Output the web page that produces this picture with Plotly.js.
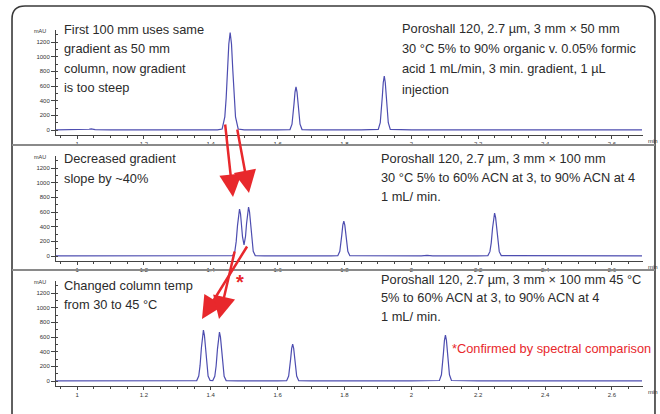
<!DOCTYPE html>
<html><head><meta charset="utf-8">
<script src="https://cdn.plot.ly/plotly-3.0.1.min.js"></script>
<style>html,body{margin:0;padding:0;background:#fff}#chart{width:660px;height:414px}</style>
</head><body><div id="chart"></div>
<script>
// Retention time (min) and absorbance (mAU), panel by panel
const time1 = [0.937,1.000,1.030,1.036,1.042,1.048,1.054,1.100,1.300,1.420,
  1.434,1.442,1.446,1.450,1.454,1.458,1.462,1.466,1.470,1.474,1.482,1.500,1.600,
  1.637,1.643,1.646,1.649,1.652,1.655,1.658,1.661,1.664,1.667,1.673,1.700,1.850,
  1.901,1.907,1.910,1.913,1.916,1.919,1.922,1.925,1.928,1.931,1.937,2.000,2.300,2.690];
const mau1 = [2,2,4,10,15,10,4,2,2,2,
  14,180,432,807,1173,1330,1173,807,432,180,14,3,2,
  6,79,191,356,518,587,518,356,191,79,6,2,2,
  8,99,239,446,648,735,648,446,239,99,8,2,2,2];

const time2 = [0.937,1.300,1.440,
  1.466,1.472,1.476,1.480,1.483,1.486,1.489,1.492,1.495,1.4995,1.504,1.507,1.510,1.513,1.516,1.519,1.523,1.527,1.533,
  1.560,1.760,
  1.780,1.786,1.789,1.792,1.795,1.798,1.801,1.804,1.807,1.810,1.816,
  1.900,2.030,2.047,2.064,2.200,
  2.229,2.235,2.239,2.243,2.246,2.249,2.252,2.255,2.259,2.263,2.269,
  2.400,2.690];
const mau2 = [2,2,2,
  6,63,196,418,575,640,576,422,260,151,269,439,601,667,600,436,204,65,6,
  2,2,
  5,64,155,289,420,476,420,289,155,64,5,
  2,2,8,2,2,
  5,59,179,382,526,585,526,382,179,59,5,
  2,2];

const time3 = [0.937,1.200,1.340,
  1.358,1.364,1.368,1.372,1.375,1.378,1.381,1.384,1.388,1.392,1.398,
  1.402,
  1.406,1.412,1.416,1.420,1.423,1.426,1.429,1.432,1.436,1.440,1.446,
  1.480,1.600,
  1.627,1.633,1.636,1.639,1.642,1.645,1.648,1.651,1.654,1.657,1.663,
  1.700,1.830,1.846,1.862,2.000,
  2.084,2.090,2.093,2.096,2.099,2.102,2.105,2.108,2.111,2.114,2.120,
  2.200,2.690];
const mau3 = [2,2,2,
  6,68,212,453,624,694,624,453,212,68,7,
  2,
  6,65,204,435,599,666,599,435,204,65,6,
  2,2,
  5,68,165,306,444,503,444,306,165,68,5,
  2,2,6,2,2,
  7,85,203,380,553,626,553,380,203,85,7,
  2,2];

const notes1Left = ['First 100 mm uses same','gradient as 50 mm','column, now gradient','is too steep'];
const notes1Right = ['Poroshall 120, 2.7 µm, 3 mm × 50 mm','30 °C 5% to 90% organic v. 0.05% formic','acid 1 mL/min, 3 min. gradient, 1 µL','injection'];
const notes2Left = ['Decreased gradient','slope by ~40%'];
const notes2Right = ['Poroshall 120, 2.7 µm, 3 mm × 100 mm','30 °C 5% to 60% ACN at 3, to 90% ACN at 4','1 mL/ min.'];
const notes3Left = ['Changed column temp','from 30 to 45 °C'];
const notes3Right = ['Poroshall 120, 2.7 µm, 3 mm × 100 mm 45 °C','5% to 60% ACN at 3, to 90% ACN at 4','1 mL/ min.'];
const footNote = '*Confirmed by spectral comparison';

const W = 660, H = 414;
const px = x => x / W;
const py = y => 1 - y / H;

const lineColor = '#4d4db0';
const axisColor = '#444';
const txtFont = {family: '"Liberation Sans", Arial, sans-serif', size: 12.8, color: '#2b2b2b'};
const tickFont = {family: 'Arial, "Liberation Sans", sans-serif', size: 6, color: '#333'};
const red = '#e8282c';

const panels = [
  {t: time1, a: mau1, top: 30},
  {t: time2, a: mau2, top: 156},
  {t: time3, a: mau3, top: 281}
];

const traces = panels.map((p, i) => ({
  x: p.t, y: p.a, type: 'scatter', mode: 'lines',
  line: {color: lineColor, width: 1.2},
  xaxis: i === 0 ? 'x' : 'x' + (i + 1),
  yaxis: i === 0 ? 'y' : 'y' + (i + 1),
  hoverinfo: 'skip'
}));

const layout = {
  width: W, height: H,
  margin: {l: 0, r: 0, t: 0, b: 0},
  paper_bgcolor: '#fff', plot_bgcolor: 'rgba(0,0,0,0)',
  showlegend: false,
  annotations: [], shapes: []
};

panels.forEach((p, i) => {
  const sfx = i === 0 ? '' : String(i + 1);
  layout['xaxis' + sfx] = {
    domain: [px(56), px(643)], range: [0.937, 2.693], anchor: 'y' + sfx,
    showline: true, linecolor: axisColor, linewidth: 1,
    ticks: 'outside', ticklen: 3, tickcolor: axisColor, tickwidth: 1,
    tick0: 1, dtick: 0.2, tickfont: tickFont,
    showgrid: false, zeroline: false,
    minor: {dtick: 0.05, ticks: 'outside', ticklen: 2, tickcolor: axisColor, showgrid: false}
  };
  layout['yaxis' + sfx] = {
    domain: [py(p.top + 105), py(p.top)], range: [-68.2, 1363.6], anchor: 'x' + sfx,
    showline: true, linecolor: axisColor, linewidth: 1,
    ticks: 'outside', ticklen: 4, tickcolor: axisColor, tickwidth: 1,
    tick0: 0, dtick: 200, tickfont: tickFont,
    showgrid: false, zeroline: false,
    minor: {dtick: 100, ticks: 'inside', ticklen: 2, tickcolor: axisColor, showgrid: false}
  };
  layout.annotations.push({xref: 'paper', yref: 'paper', x: px(48), y: py(p.top + 1),
    text: 'mAU', showarrow: false, xanchor: 'right', yanchor: 'middle',
    font: {family: 'Arial, sans-serif', size: 5.5, color: '#333'}});
  layout.annotations.push({xref: 'paper', yref: 'paper', x: px(646), y: py(p.top + 111),
    text: 'min', showarrow: false, xanchor: 'left', yanchor: 'middle',
    font: {family: 'Arial, sans-serif', size: 6, color: '#333'}});
});

function addLines(lines, x, ys) {
  lines.forEach((s, k) => layout.annotations.push({
    xref: 'paper', yref: 'paper', x: px(x), y: py(ys[k]), text: s, showarrow: false,
    xanchor: 'left', yanchor: 'middle', font: txtFont
  }));
}
addLines(notes1Left, 62, [30, 49, 68, 87]);
addLines(notes1Right, 400, [29, 49, 69, 89]);
addLines(notes2Left, 62, [159, 178]);
addLines(notes2Right, 379, [159, 177, 196]);
addLines(notes3Left, 62, [285, 304]);
addLines(notes3Right, 379, [279, 297, 316]);
layout.annotations.push({xref: 'paper', yref: 'paper', x: px(450), y: py(348), text: footNote,
  showarrow: false, xanchor: 'left', yanchor: 'middle', font: Object.assign({}, txtFont, {color: red})});
layout.annotations.push({xref: 'paper', yref: 'paper', x: px(240), y: py(282), text: '<b>*</b>',
  showarrow: false, xanchor: 'center', yanchor: 'middle', font: {family: 'Arial, sans-serif', size: 20, color: red}});

// red arrows: tip (x,y) and tail offset (ax,ay) in pixels
[[233, 197, -8, -74], [249, 193, -12, -65], [202, 319, 46, -74], [219, 319, 16, -69]].forEach(a => {
  layout.annotations.push({xref: 'paper', yref: 'paper', x: px(a[0]), y: py(a[1]), ax: a[2], ay: a[3],
    text: '', showarrow: true, arrowhead: 2, arrowsize: 1.8, arrowwidth: 2.5, arrowcolor: red, standoff: 0, startstandoff: 0});
});

// frame and separators
const f = (x, y) => px(x).toFixed(4) + ',' + py(y).toFixed(4);
layout.shapes.push({type: 'path', xref: 'paper', yref: 'paper',
  path: 'M' + f(12, 414) + ' L' + f(12, 19) + ' Q' + f(12, 6) + ' ' + f(25, 6) + ' L' + f(642, 6) + ' Q' + f(655, 6) + ' ' + f(655, 19) + ' L' + f(655, 414),
  line: {color: '#3a3a3a', width: 1.6}});
[145, 270].forEach(y => layout.shapes.push({type: 'line', xref: 'paper', yref: 'paper',
  x0: px(12), x1: px(655), y0: py(y), y1: py(y), line: {color: '#8a8a8a', width: 2}}));

Plotly.newPlot('chart', traces, layout, {staticPlot: true, displayModeBar: false});
</script></body></html>
